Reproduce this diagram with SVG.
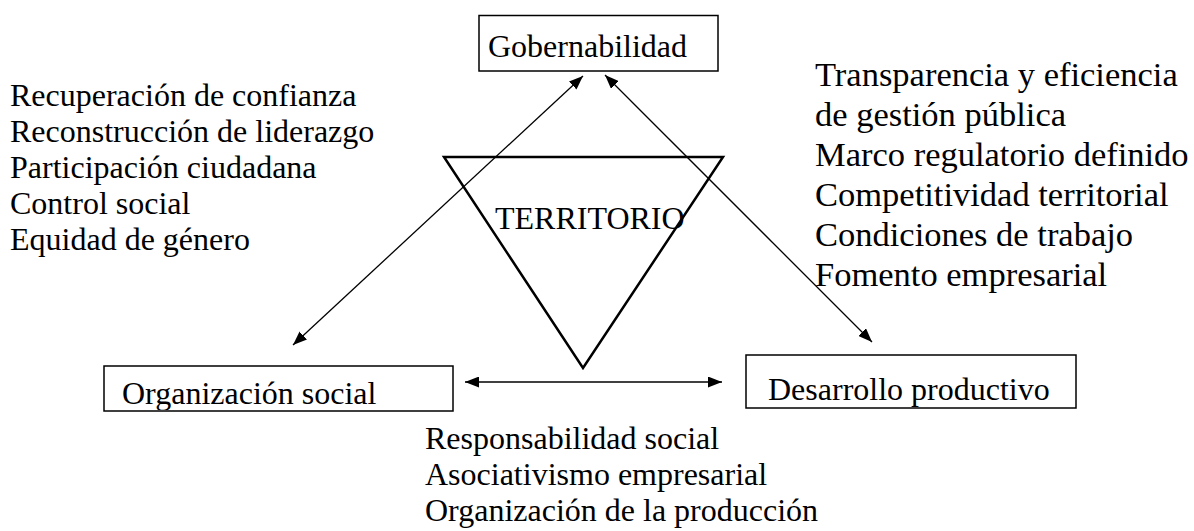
<svg xmlns="http://www.w3.org/2000/svg" width="1194" height="531" viewBox="0 0 1194 531">
<style>
.t{font-family:"Liberation Serif","Times New Roman",serif;font-size:32px;fill:#000}
.r{font-size:34.5px}
.box{fill:#fff;stroke:#000;stroke-width:1.5}
.c{stroke:#000;stroke-width:1.3;fill:none}
</style>
<defs>
<marker id="ah" viewBox="0 0 14 11" refX="14" refY="5.5" markerWidth="14" markerHeight="11" markerUnits="userSpaceOnUse" orient="auto-start-reverse">
<path d="M0,0 L14,5.5 L0,11 z" fill="#000"/>
</marker>
<clipPath id="cOrg"><rect x="104" y="366" width="349" height="44"/></clipPath>
<clipPath id="cDes"><rect x="746" y="355" width="330" height="52"/></clipPath>
</defs>
<rect width="1194" height="531" fill="#fff"/>
<g id="territorio">
<polygon points="444,157 723,157 583,368" fill="none" stroke="#000" stroke-width="2.5"/>
<text class="t" x="495" y="229">TERRITORIO</text>
</g>
<g id="connectors">
<line class="c" x1="583" y1="76" x2="293" y2="345" marker-start="url(#ah)" marker-end="url(#ah)"/>
<line class="c" x1="605" y1="75" x2="872" y2="342" marker-start="url(#ah)" marker-end="url(#ah)"/>
<line class="c" x1="465" y1="382" x2="722" y2="382" marker-start="url(#ah)" marker-end="url(#ah)"/>
</g>
<g id="gobernabilidad">
<rect class="box" x="479" y="15.5" width="239" height="55.5"/>
<text class="t" x="488" y="57">Gobernabilidad</text>
</g>
<g id="organizacion">
<rect class="box" x="104" y="366" width="349" height="45"/>
<text class="t" x="122" y="404" clip-path="url(#cOrg)">Organización social</text>
</g>
<g id="desarrollo">
<rect class="box" x="746" y="355" width="330" height="53"/>
<text class="t" x="768" y="400" clip-path="url(#cDes)">Desarrollo productivo</text>
</g>
<g id="texto-izquierda">
<text class="t" x="10" y="106">Recuperación de confianza</text>
<text class="t" x="10" y="142">Reconstrucción de liderazgo</text>
<text class="t" x="10" y="178">Participación ciudadana</text>
<text class="t" x="10" y="214">Control social</text>
<text class="t" x="10" y="250">Equidad de género</text>
</g>
<g id="texto-derecha">
<text class="t r" x="815" y="86">Transparencia y eficiencia</text>
<text class="t r" x="815" y="126">de gestión pública</text>
<text class="t r" x="815" y="166">Marco regulatorio definido</text>
<text class="t r" x="815" y="206">Competitividad territorial</text>
<text class="t r" x="815" y="246">Condiciones de trabajo</text>
<text class="t r" x="815" y="286">Fomento empresarial</text>
</g>
<g id="texto-abajo">
<text class="t" x="425" y="449">Responsabilidad social</text>
<text class="t" x="425" y="485">Asociativismo empresarial</text>
<text class="t" x="425" y="521">Organización de la producción</text>
</g>
</svg>
